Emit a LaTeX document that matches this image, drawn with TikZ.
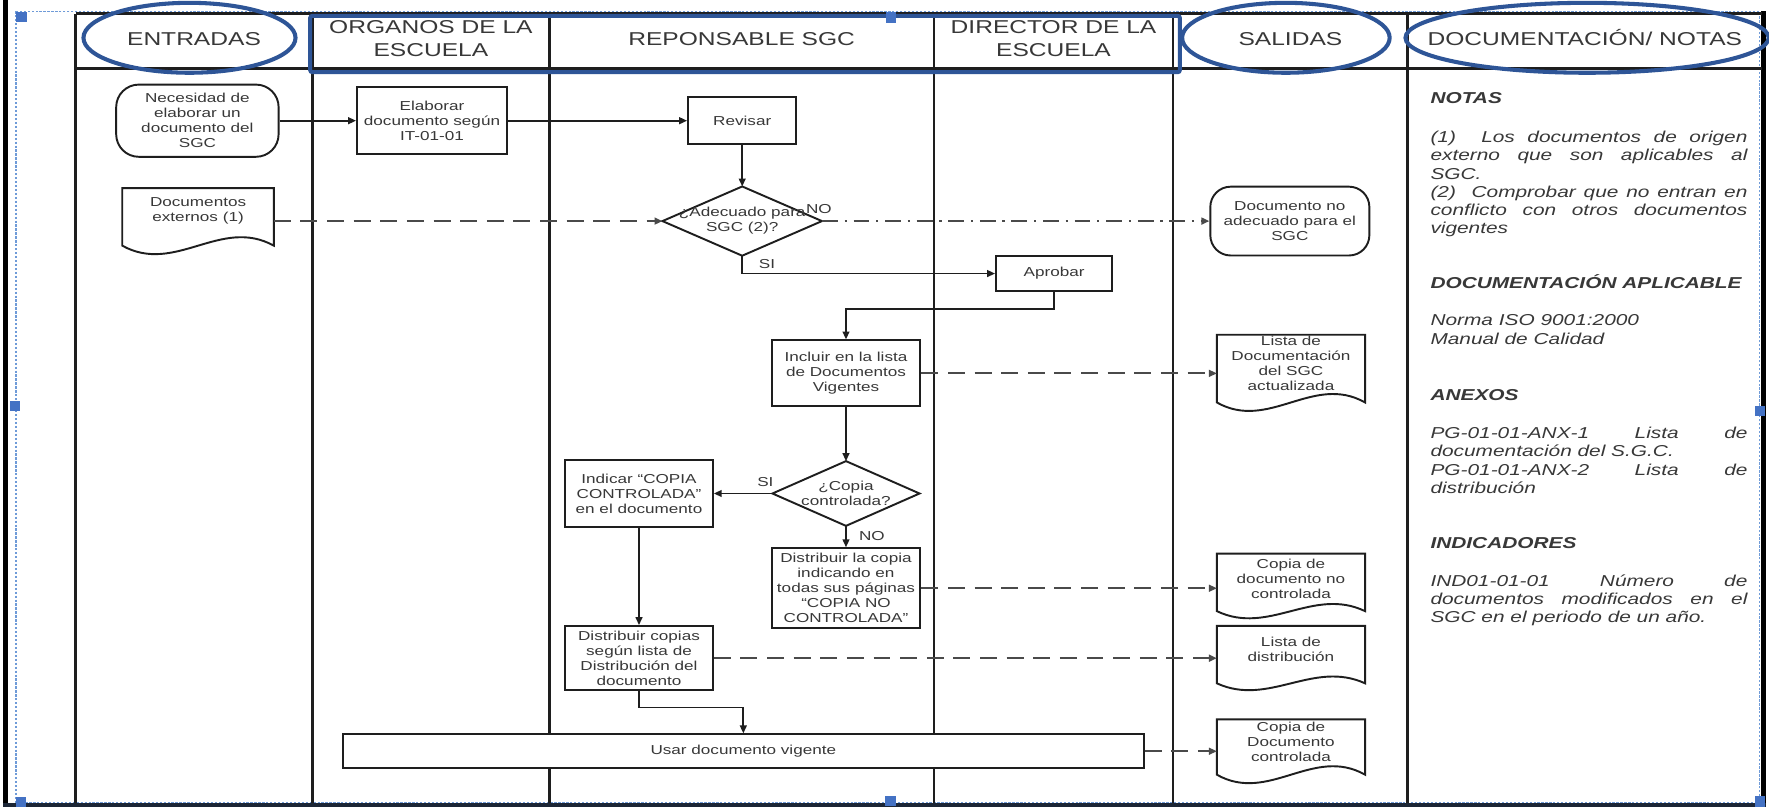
\documentclass[tikz,border=0pt]{standalone}
\usepackage{fontspec}
\setmainfont{Liberation Sans}[FakeStretch=1.32]
\usetikzlibrary{arrows.meta,calc}
\definecolor{lineC}{HTML}{1E1E1E}
\definecolor{txtC}{HTML}{383838}
\definecolor{blueC}{HTML}{2E5597}
\definecolor{handleC}{HTML}{4472C4}
\definecolor{selC}{HTML}{6F9BD8}
\definecolor{dashC}{HTML}{4A4A4A}
\definecolor{frameC}{HTML}{1C2636}
\newcommand{\bxfont}{\fontsize{11.5}{13.3}\selectfont}
\newcommand{\hdfont}{\fontsize{16.5}{20}\selectfont}
\newcommand{\ntfont}{\fontsize{14}{16.3}\selectfont\itshape}
\newcommand{\docwave}[3]{%
  \draw[boxline] ($(#1.north west)+(0,#2)$) -- (#1.north west) -- (#1.north east) -- ($(#1.north east)+(0,#2)$)
  .. controls ($(#1.north east)!0.35!(#1.north west)+(0,#2-#3)$) and ($(#1.north east)!0.65!(#1.north west)+(0,#2+#3)$) .. ($(#1.north west)+(0,#2)$) -- cycle;}
\tikzset{
  boxline/.style={draw=lineC, line width=1.7pt},
  proc/.style={boxline, fill=white, inner sep=0pt, align=center, text=txtC, font=\bxfont},
  term/.style={proc, rounded corners=20pt},
  ghost/.style={inner sep=0pt, align=center, text=txtC, font=\bxfont},
  flow/.style={draw=lineC, line width=1.5pt, -{Triangle[length=7pt,width=6pt]}},
  dflow/.style={draw=dashC, line width=2pt, dash pattern=on 15pt off 8.6pt, -{Triangle[length=7pt,width=6pt]}},
  ddflow/.style={draw=dashC, line width=1.8pt, dash pattern=on 14pt off 6pt on 2pt off 6pt, -{Triangle[length=7pt,width=6pt]}},
  lane/.style={draw=lineC, line width=2.2pt},
  hdr/.style={text=txtC, font=\hdfont, align=center, inner sep=0pt},
  lbl/.style={text=txtC, font=\bxfont, inner sep=0pt},
  note/.style={text=txtC, font=\ntfont, inner sep=0pt, anchor=base west},
  notehd/.style={note, font=\ntfont\bfseries},
  hl/.style={draw=blueC, line width=3.6pt},
}
\begin{document}
\begin{tikzpicture}[x=1pt,y=-1pt]
\useasboundingbox (0,0) rectangle (1568.3,715.4);
\fill[white] (0,0) rectangle (1568.3,715.4);

% selection border and frame
\draw[selC, line width=1.3pt, dash pattern=on 2pt off 1.5pt] (14,10) rectangle (1560,712);
\fill[black] (2.5,0) rectangle (7.5,715.4);
\fill[black] (1561.3,10) rectangle (1566,715.4);
\fill[frameC] (2.5,712.2) rectangle (1566,715.4);

% table
\draw[lane] (67,12) -- (1562,12);
\draw[lane, line width=2.6pt] (67,61) -- (1562,61);
\foreach \xx in {67,277,487,828,1040,1248} \draw[lane] (\xx,12) -- (\xx,712);

% headers
\node[hdr, anchor=base] (hE) at (172,39.9) {ENTRADAS};
\node[hdr] (hO) at (382,34.3) {ORGANOS DE LA\\ESCUELA};
\node[hdr, anchor=base] (hR) at (657.5,39.9) {REPONSABLE SGC};
\node[hdr] (hD) at (934,34.3) {DIRECTOR DE LA\\ESCUELA};
\node[hdr, anchor=base] (hS) at (1144,39.9) {SALIDAS};
\node[hdr, anchor=base] (hN) at (1405,39.9) {DOCUMENTACIÓN/ NOTAS};

% flow nodes
\node[term, minimum width=144pt, minimum height=64pt] (A) at (175,107) {Necesidad de\\elaborar un\\documento del\\SGC};
\node[proc, minimum width=133pt, minimum height=59pt] (B) at (383,107) {Elaborar\\documento según\\IT-01-01};
\node[proc, minimum width=96pt, minimum height=42pt] (C) at (658,107) {Revisar};

\node[ghost, minimum width=141pt, minimum height=61pt] (D) at (658,196) {};
\draw[boxline, fill=white] (D.north) -- (D.east) -- (D.south) -- (D.west) -- cycle;
\node[ghost] (Dt) at (D.center) {¿Adecuado para\\SGC (2)?};

\node[ghost, minimum width=134pt, minimum height=40pt] (E) at (175.6,187) {Documentos\\externos (1)};
\docwave{E}{51}{26}

\node[term, rounded corners=18pt, minimum width=141pt, minimum height=61pt] (F) at (1143.5,196) {Documento no\\adecuado para el\\SGC};
\node[proc, minimum width=103pt, minimum height=31pt] (G) at (934.5,242.5) {Aprobar};
\node[proc, minimum width=132pt, minimum height=58.5pt] (H) at (750,331) {Incluir en la lista\\de Documentos\\Vigentes};

\node[ghost, minimum width=131pt, minimum height=50pt] (I) at (1144.5,322) {Lista de\\Documentación\\del SGC\\actualizada};
\docwave{I}{60}{26}

\node[ghost, minimum width=130pt, minimum height=57pt] (J) at (750,437.5) {};
\draw[boxline, fill=white] (J.north) -- (J.east) -- (J.south) -- (J.west) -- cycle;
\node[ghost] (Jt) at (J.center) {¿Copia\\controlada?};

\node[proc, minimum width=131pt, minimum height=59.5pt] (K) at (566.5,437.5) {Indicar “COPIA\\CONTROLADA”\\en el documento};
\node[proc, minimum width=132pt, minimum height=71pt] (L) at (750,521.5) {Distribuir la copia\\indicando en\\todas sus páginas\\“COPIA NO\\CONTROLADA”};

\node[ghost, minimum width=131pt, minimum height=45.2pt] (M) at (1144.5,513.6) {Copia de\\documento no\\controlada};
\docwave{M}{51}{22}

\node[proc, minimum width=131pt, minimum height=57pt] (N) at (566.5,583.5) {Distribuir copias\\según lista de\\Distribución del\\documento};

\node[ghost, minimum width=131pt, minimum height=41pt] (O) at (1144.5,575.5) {Lista de\\distribución};
\docwave{O}{51}{21}

\node[proc, minimum width=710pt, minimum height=30pt] (P) at (659,666) {Usar documento vigente};

\node[ghost, minimum width=131pt, minimum height=40pt] (Q) at (1144.5,658) {Copia de\\Documento\\controlada};
\docwave{Q}{49}{26}

% connectors
\draw[flow] (A.east) -- (B.west);
\draw[flow] (B.east) -- (C.west);
\draw[flow] (C.south) -- (D.north);
\draw[dflow] (E.east |- D.west) -- (D.west);
\draw[ddflow] (D.east) -- (F.west);
\draw[flow] (D.south) |- (G.west);
\draw[flow] (G.south) -- ++(0,14.8) -| (H.north);
\draw[dflow] (H.east) -- (I.west |- H.east);
\draw[flow] (H.south) -- (J.north);
\draw[flow] (J.west) -- (K.east);
\draw[flow] (J.south) -- (L.north);
\draw[dflow] (L.east) -- (M.west |- L.east);
\draw[flow] (K.south) -- (N.north);
\draw[dflow] (N.east) -- (O.west |- N.east);
\draw[flow] (N.south) -- ++(0,14.5) -| (P.north);
\draw[dflow] (P.east) -- (Q.west |- P.east);

% labels
\node[lbl] (no1) at (726,185) {NO};
\node[lbl] (si1) at (680,234) {SI};
\node[lbl] (si2) at (678.5,427) {SI};
\node[lbl] (no2) at (773,475) {NO};

% notes column
\node[notehd] (t1) at (1268,92) {NOTAS};
\node[note] (t2) at (1268,126.2) {\makebox[281pt][s]{(1)\ \ Los documentos de origen}};
\node[note] (t3) at (1268,142.4) {\makebox[281pt][s]{externo que son aplicables al}};
\node[note] (t4) at (1268,158.7) {SGC.};
\node[note] (t5) at (1268,175) {\makebox[281pt][s]{(2)\ \ Comprobar que no entran en}};
\node[note] (t6) at (1268,191.2) {\makebox[281pt][s]{conflicto con otros documentos}};
\node[note] (t7) at (1268,207.4) {vigentes};
\node[notehd] (t8) at (1268,256.2) {DOCUMENTACIÓN APLICABLE};
\node[note] (t9) at (1268,288.7) {Norma ISO 9001:2000};
\node[note] (t10) at (1268,305.4) {Manual de Calidad};
\node[notehd] (t11) at (1268,355.2) {ANEXOS};
\node[note] (t12) at (1268,388.6) {\makebox[281pt][s]{PG-01-01-ANX-1 \hfill Lista \hfill de}};
\node[note] (t13) at (1268,404.8) {documentación del S.G.C.};
\node[note] (t14) at (1268,421.7) {\makebox[281pt][s]{PG-01-01-ANX-2 \hfill Lista \hfill de}};
\node[note] (t15) at (1268,437.9) {distribución};
\node[notehd] (t16) at (1268,486) {INDICADORES};
\node[note] (t17) at (1268,519.8) {\makebox[281pt][s]{IND01-01-01 \hfill Número \hfill de}};
\node[note] (t18) at (1268,536) {\makebox[281pt][s]{documentos modificados en el}};
\node[note] (t19) at (1268,552.3) {SGC en el periodo de un año.};

% blue highlights
\draw[hl] (168,33.5) ellipse [x radius=94pt, y radius=31pt];
\draw[hl, rounded corners=2pt] (275,14) rectangle (1046,64);
\draw[hl] (1140,33.5) ellipse [x radius=92pt, y radius=31pt];
\draw[hl] (1407,33.5) ellipse [x radius=161pt, y radius=31pt];

% selection handles
\foreach \hx/\hy in {19/15, 790/15.5, 13/360, 1560.5/364.5, 18.5/711, 789.5/710, 1560.5/710.5}
  \fill[handleC] ({\hx-4.5},{\hy-4.5}) rectangle ({\hx+4.5},{\hy+4.5});
\end{tikzpicture}
\end{document}
